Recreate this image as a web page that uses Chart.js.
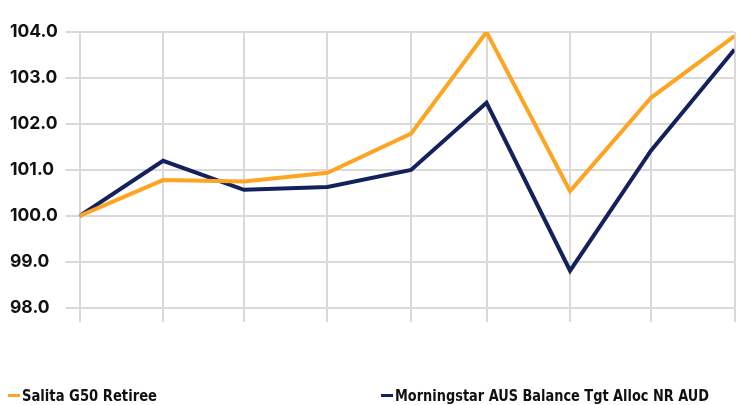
<!DOCTYPE html>
<html>
<head>
<meta charset="utf-8">
<script src="https://cdn.jsdelivr.net/npm/chart.js@4.4.0/dist/chart.umd.min.js"></script>
<style>
  html, body { margin: 0; padding: 0; background: #fff; }
  #wrap { position: relative; width: 747px; height: 405px; overflow: hidden; }
  #legend { position: absolute; left: 0; top: 387px; width: 747px; height: 18px;
            font-family: "DejaVu Sans Condensed", "DejaVu Sans", sans-serif;
            font-size: 16px; font-weight: bold; color: #111; }
  .item { position: absolute; top: 0; white-space: nowrap; line-height: 18px; }
  .texto { display: inline-block; transform-origin: left center; }
  .swatch { position: absolute; width: 12px; height: 3px; top: 7px; }
</style>
</head>
<body>
<div id="wrap">
  <canvas id="grafico" width="747" height="405"></canvas>
  <div id="legend"></div>
</div>
<script>
// month-end dates of each observation
const fechas = ['2022-09-30', '2022-10-31', '2022-11-30', '2022-12-31', '2023-01-31',
                '2023-02-28', '2023-03-31', '2023-04-30', '2023-05-31'];
const salita = [100.0, 100.78, 100.75, 100.94, 101.79, 104.0, 100.54, 102.57, 103.91];
const morningstar = [100.0, 101.20, 100.57, 100.63, 101.00, 102.46, 98.81, 101.42, 103.62];
const nombres = ['Salita G50 Retiree', 'Morningstar AUS Balance Tgt Alloc NR AUD'];
const colores = ['#FDA523', '#13215C'];
const yTicks = [98, 99, 100, 101, 102, 103, 104];

const t0 = Date.parse(fechas[0]);
const dias = fechas.map(f => Math.round((Date.parse(f) - t0) / 86400000));
const puntos = serie => serie.map((v, i) => ({ x: dias[i], y: v }));

const ctx = document.getElementById('grafico').getContext('2d');
new Chart(ctx, {
    type: 'line',
    data: {
        datasets: [{
            label: nombres[0],
            data: puntos(salita),
            borderColor: colores[0],
            borderWidth: 4,
            pointRadius: 0,
            tension: 0
        }, {
            label: nombres[1],
            data: puntos(morningstar),
            borderColor: colores[1],
            borderWidth: 4,
            pointRadius: 0,
            tension: 0
        }]
    },
    options: {
        responsive: false,
        animation: false,
        layout: { padding: { left: 10, right: 12.5, top: 32, bottom: 83 } },
        plugins: { legend: { display: false }, tooltip: { enabled: false } },
        scales: {
            x: {
                type: 'linear',
                min: dias[0],
                max: dias[dias.length - 1],
                afterBuildTicks: s => { s.ticks = dias.map(d => ({ value: d })); },
                ticks: { display: false },
                grid: { color: '#D9D9D9', lineWidth: 2, tickLength: 14 },
                border: { display: false }
            },
            y: {
                min: 98,
                max: 104,
                afterBuildTicks: s => { s.ticks = yTicks.map(v => ({ value: v })); },
                afterFit: s => { s.width = 69.5; },
                ticks: {
                    crossAlign: 'far',
                    padding: 5,
                    color: '#111',
                    font: { family: 'Inter', size: 17.5, weight: '700' },
                    callback: v => v.toFixed(1)
                },
                grid: { color: '#D9D9D9', lineWidth: 2, tickLength: 14 },
                border: { display: false }
            }
        }
    }
});

// legend below the plot, text squeezed to the narrow face of the original
const legend = document.getElementById('legend');
const posiciones = [8, 381];
const anchos = [135, 314];
nombres.forEach((n, i) => {
    const el = document.createElement('span');
    el.className = 'item';
    el.style.left = posiciones[i] + 'px';
    const sw = document.createElement('span');
    sw.className = 'swatch';
    sw.style.left = '0px';
    sw.style.background = colores[i];
    const tx = document.createElement('span');
    tx.className = 'texto';
    tx.style.marginLeft = '14px';
    tx.textContent = n;
    el.appendChild(sw);
    el.appendChild(tx);
    legend.appendChild(el);
    const w = tx.getBoundingClientRect().width;
    tx.style.transform = 'scaleX(' + (anchos[i] / w) + ')';
});
</script>
</body>
</html>
